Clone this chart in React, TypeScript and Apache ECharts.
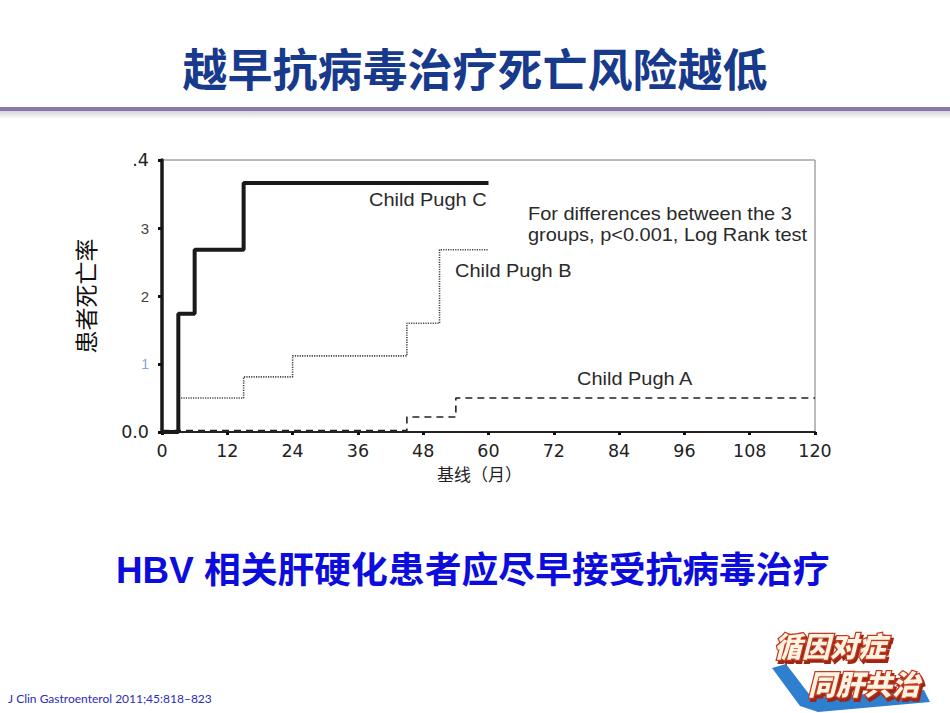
import React, { useEffect, useRef } from "react";
import * as echarts from "echarts";

// ---- data ----
const title = "越早抗病毒治疗死亡风险越低";
const subtitle = "HBV 相关肝硬化患者应尽早接受抗病毒治疗";
const citation = "J Clin Gastroenterol 2011;45:818–823";
const yAxisName = "患者死亡率";
const xAxisName = "基线（月）";
const xTicks = [0, 12, 24, 36, 48, 60, 72, 84, 96, 108, 120];
const yTickLabels = ["0.0", "1", "2", "3", ".4"];

const monthsC = [0, 3, 6, 15, 60];
const riskC = [0, 0.174, 0.268, 0.366, 0.366];
const monthsB = [3.5, 15, 24, 45, 51, 60];
const riskB = [0.05, 0.081, 0.112, 0.16, 0.268, 0.268];
const monthsA = [0, 45, 54, 120];
const riskA = [0.002, 0.022, 0.05, 0.05];

const labelC = "Child Pugh C";
const labelB = "Child Pugh B";
const labelA = "Child Pugh A";
const noteLines = ["For differences between the 3", "groups, p<0.001, Log Rank test"];
const logoLines = ["循因对症", "同肝共治"];

const pairs = (xs: number[], ys: number[]) => xs.map((x, i) => [x, ys[i]]);

export default function App() {
  const ref = useRef<HTMLDivElement>(null);
  useEffect(() => {
    if (!ref.current) return;
    const chart = echarts.init(ref.current, null, { renderer: "svg" });
    const sans = "'Liberation Sans', Arial, sans-serif";
    const wide = "'DejaVu Sans', sans-serif";
    const cjk = "'Noto Sans CJK SC', sans-serif";
    const annot = (text: string, x: number, y: number) => ({
      type: "text",
      left: x,
      top: y,
      scaleX: 1.11,
      style: { text, fill: "#2a2a2a", font: `18px ${sans}` },
    });
    const logoStyle = {
      fill: "#fff4e2",
      stroke: "#c23a20",
      lineWidth: 2.5,
      font: `italic 900 28px ${cjk}`,
      textShadowColor: "#9e2814",
      textShadowOffsetX: 2,
      textShadowOffsetY: 3,
      textShadowBlur: 1,
    };
    chart.setOption({
      animation: false,
      backgroundColor: "#ffffff",
      grid: {
        left: 162,
        right: 135,
        top: 160,
        bottom: 281,
        show: true,
        borderColor: "#777",
        borderWidth: 1,
      },
      xAxis: {
        type: "value",
        min: 0,
        max: 120,
        interval: 12,
        data: xTicks,
        name: xAxisName,
        nameLocation: "middle",
        nameGap: 33,
        nameTextStyle: { fontFamily: cjk, fontSize: 17, color: "#222", padding: [0, 18, 0, 0] },
        splitLine: { show: false },
        axisLine: { lineStyle: { color: "#222", width: 2 } },
        axisTick: { length: 3, lineStyle: { color: "#111", width: 3 } },
        axisLabel: { margin: 10, fontFamily: wide, fontSize: 17.5, color: "#222" },
      },
      yAxis: {
        type: "value",
        min: 0,
        max: 0.4,
        interval: 0.1,
        name: yAxisName,
        nameLocation: "middle",
        nameGap: 66,
        nameTextStyle: { fontFamily: cjk, fontSize: 23, color: "#111" },
        splitLine: { show: false },
        axisLine: { lineStyle: { color: "#1a1a1a", width: 3.5 } },
        axisTick: { length: 4, lineStyle: { color: "#111", width: 3 } },
        axisLabel: {
          margin: 13,
          fontFamily: wide,
          fontSize: 17.5,
          color: "#222",
          formatter: (v: number) => {
            const i = Math.round(v * 10);
            const t = yTickLabels[i] ?? "";
            if (i === 1) return "{b|" + t + "}";
            if (i === 2 || i === 3) return "{p|" + t + "}";
            return t;
          },
          rich: {
            b: { color: "#7fa6d6", fontFamily: sans, fontSize: 14 },
            p: { color: "#444", fontFamily: sans, fontSize: 15 },
          },
        },
      },
      series: [
        {
          name: labelA,
          type: "line",
          step: "end",
          symbol: "none",
          data: pairs(monthsA, riskA),
          lineStyle: { color: "#222", width: 1.6, type: [7, 5] },
          z: 6,
        },
        {
          name: labelB,
          type: "line",
          step: "end",
          symbol: "none",
          data: pairs(monthsB, riskB),
          lineStyle: { color: "#444", width: 1.6, type: [1.2, 1.2] },
          z: 7,
        },
        {
          name: labelC,
          type: "line",
          step: "end",
          symbol: "none",
          data: pairs(monthsC, riskC),
          lineStyle: { color: "#1a1a1a", width: 4 },
          z: 8,
        },
      ],
      graphic: [
        {
          type: "text",
          left: "center",
          top: 45,
          style: { text: title, fill: "#183a8c", font: `bold 45px ${cjk}` },
        },
        {
          type: "rect",
          shape: { x: 0, y: 107, width: 950, height: 4 },
          style: { fill: "#8c77ad" },
        },
        {
          type: "rect",
          shape: { x: 0, y: 111, width: 950, height: 8 },
          style: {
            fill: new echarts.graphic.LinearGradient(0, 0, 0, 1, [
              { offset: 0, color: "#d4d4d4" },
              { offset: 1, color: "#ffffff" },
            ]),
          },
        },
        annot(labelC, 369, 191),
        annot(noteLines[0], 528, 205),
        annot(noteLines[1], 528, 226),
        annot(labelB, 455, 262),
        annot(labelA, 577, 370),
        {
          type: "text",
          left: 116,
          top: 552,
          style: { text: subtitle, fill: "#0c0cdc", font: `bold 36.8px 'Liberation Sans', 'Noto Sans CJK SC', sans-serif` },
        },
        {
          type: "text",
          left: 8,
          top: 692,
          style: { text: citation, fill: "#2b2bb8", font: "12px Lato, sans-serif" },
        },
        {
          type: "polygon",
          shape: {
            points: [
              [772, 668],
              [786, 664],
              [812, 698],
              [924, 690],
              [930, 702],
              [818, 712],
              [800, 706],
            ],
          },
          style: { fill: "#2f7fd0" },
        },
        {
          type: "text",
          x: 774,
          y: 631,
          style: { text: logoLines[0], ...logoStyle },
        },
        {
          type: "text",
          x: 808,
          y: 669,
          style: { text: logoLines[1], ...logoStyle },
        },
      ],
    });
    return () => chart.dispose();
  }, []);
  return (
    <div
      ref={ref}
      style={{ position: "fixed", left: 0, top: 0, width: 950, height: 713 }}
    />
  );
}
